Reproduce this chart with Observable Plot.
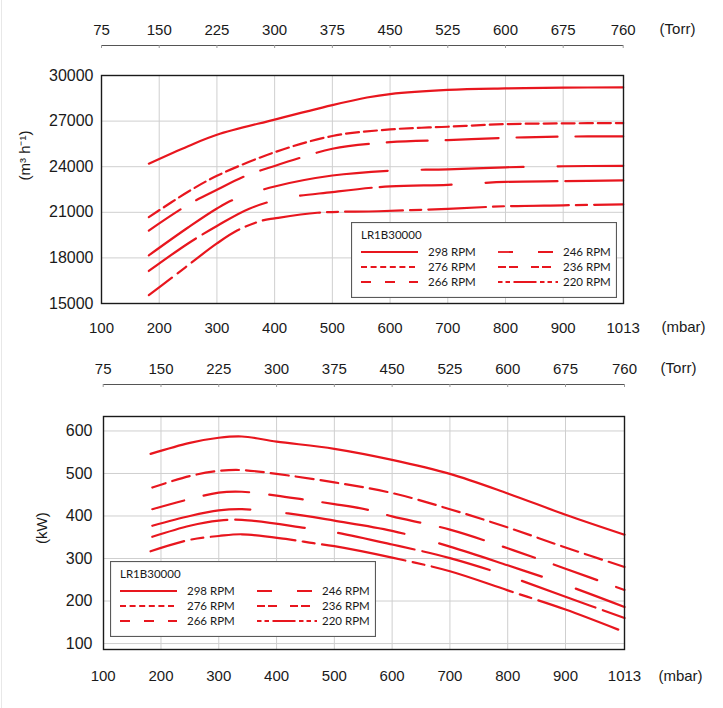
<!DOCTYPE html>
<html><head><meta charset="utf-8">
<script src="https://cdn.jsdelivr.net/npm/d3@7"></script>
<script src="https://cdn.jsdelivr.net/npm/@observablehq/plot@0.6"></script>
<style>
body{margin:0;background:#fff;}
#root{position:relative;width:723px;height:708px;overflow:hidden;background:#fff;}
.panel{position:absolute;left:0;width:723px;}
.panel svg{display:block;}
.legend{position:absolute;line-height:0;}
#edge{position:absolute;left:1px;top:0;width:1px;height:708px;background:#e8e8e8;}
</style></head><body>
<div id="root"><div id="edge"></div><div class="panel" id="p1" style="top:0"></div><div class="panel" id="p2" style="top:345px"></div></div>
<script>
// ---- data ----
const mbarTicks = [100,200,300,400,500,600,700,800,900,1013];
const mbarGrid = [200,300,400,500,600,700,800,900];
const torrTicks = [75,150,225,300,375,450,525,600,675,760];
const flowTicks = [15000,18000,21000,24000,27000,30000];
const powerTicks = [100,200,300,400,500,600];
const rpmLabels = ["298 RPM","276 RPM","266 RPM","246 RPM","236 RPM","220 RPM"];
const modelName = "LR1B30000";

// Flow (m3/h) vs pressure (mbar)
const flow298X = [182,250,300,400,500,560,600,700,800,900,1013];
const flow298Y = [24200,25350,26100,27100,28050,28550,28780,29050,29150,29200,29220];
const flow276X = [182,250,300,400,500,600,700,800,900,1013];
const flow276Y = [20680,22350,23400,24950,26020,26450,26630,26800,26850,26870];
const flow266X = [182,250,300,350,400,450,500,600,700,800,900,1013];
const flow266Y = [19800,21500,22480,23400,24050,24650,25180,25615,25750,25900,25980,26000];
const flow246X = [182,250,300,330,400,500,600,700,800,900,1013];
const flow246Y = [18170,20000,21250,21850,22700,23420,23740,23830,23960,24030,24060];
const flow236X = [182,250,300,355,413,500,600,700,800,900,1013];
const flow236Y = [17140,18950,20100,21220,21900,22330,22710,22810,23000,23050,23100];
const flow220X = [182,222,246,300,335,378,400,474,580,700,800,900,1013];
const flow220Y = [15550,16700,17400,18950,19800,20450,20600,20970,21070,21230,21400,21460,21520];

// Power (kW) vs pressure (mbar)
const pow298X = [182,250,300,340,400,500,600,700,800,900,1013];
const pow298Y = [546,572,584,587,575,558,532,499,453,403,356];
const pow276X = [185,250,300,340,400,500,600,700,800,900,1013];
const pow276Y = [467,494,506,508,499,479,454,416,373,326,280];
const pow266X = [185,250,300,340,400,450,500,560,600,700,800,900,1013];
const pow266Y = [416,440,455,457,448,438,428,414,399,368,324,276,226];
const pow246X = [185,250,300,340,420,500,600,700,800,900,1013];
const pow246Y = [377,400,413,416,406,389,365,328,284,238,186];
const pow236X = [185,250,300,340,450,500,600,700,800,900,1013];
const pow236Y = [351,377,389,391,372,362,333,301,259,210,160];
const pow220X = [182,250,300,340,416,464,500,600,700,800,900,1013];
const pow220Y = [317,344,353,357,346,336,329,302,270,225,180,127];

// ---- styles ----
const RED = "#e8161e";
const FONT = "'Liberation Sans', Arial, sans-serif";
const flowDash = [
  {d:null,o:0},{d:"13,5",o:0},{d:"41,18,53,18",o:3},
  {d:"102,34,125,34",o:2},{d:"72,8,72,34",o:15},{d:"58,7,11,7",o:29}];
const powDash = [
  {d:null,o:0},{d:"18,7",o:4},{d:"34,20,46,20",o:1},
  {d:"108,36,120,36",o:8},{d:"78,8,70,34",o:1},{d:"85,7.5,12,7.5",o:50}];
const legendDash = [null,"6,3.6","10,14","15,25","8,3,9,13","4.5,3,4.5,3.5,23,3.5"];

const torrMbar = torrTicks.map(t => t === 75 ? 100 : t === 760 ? 1013 : Math.round(t*1.33322));
const torrLabel = new Map(torrMbar.map((m,i)=>[m, String(torrTicks[i])]));
const xDomain = [100,900,1013];
const plain = d => String(d);

function torrAxis(c){
  return Plot.plot({
    width:723, height:c.torrH, marginTop:c.torrLine, marginBottom:c.torrH-c.torrLine-3,
    marginLeft:c.ml, marginRight:c.mr,
    x:{type:"linear", domain:xDomain, range:c.xRange},
    y:{type:"linear", domain:[0,1], range:[c.torrLine, c.torrLine+3], axis:null},
    style:{fontFamily:FONT, fontSize:"15px", background:"transparent", color:"#1a1a1a"},
    marks:[
      Plot.ruleY([0],{stroke:"#555", strokeWidth:1}),
      Plot.ruleX(torrMbar,{x:d=>d, y1:0, y2:1, stroke:"#999"}),
      Plot.axisX(torrMbar,{anchor:"top", tickSize:0, tickPadding:c.torrPad, tickFormat:d=>torrLabel.get(d), label:null}),
      Plot.text(["(Torr)"],{frameAnchor:"top-right", dx:54, dy:-(c.torrPad+5.4), lineAnchor:"middle", textAnchor:"middle"})
    ]
  });
}

function mainPlot(c){
  const lines = c.series.map((s,i)=>Plot.line(s.x,{x:s.x, y:s.y, stroke:RED, strokeWidth:2.2,
    strokeDasharray:c.dash[i].d || undefined, strokeDashoffset:c.dash[i].o, curve:"catmull-rom"}));
  return Plot.plot({
    width:723, height:c.h, marginTop:c.mt, marginBottom:c.mb, marginLeft:c.ml, marginRight:c.mr,
    x:{type:"linear", domain:xDomain, range:c.xRange},
    y:{type:"linear", domain:c.yDomain},
    style:{fontFamily:FONT, fontSize:"15px", background:"transparent", color:"#1a1a1a"},
    marks:[
      Plot.ruleX(mbarGrid,{stroke:"#cfcfcf", strokeWidth:1}),
      Plot.ruleY(c.yTicks,{stroke:"#cfcfcf", strokeWidth:1}),
      ...lines,
      Plot.frame({stroke:"#1a1a1a", strokeWidth:1.4}),
      Plot.axisY(c.yTicks,{tickSize:0, tickPadding:c.yPad, fontSize:16, tickFormat:plain, label:null}),
      Plot.axisX(mbarTicks,{tickSize:0, tickPadding:c.xPad, tickFormat:plain, label:null}),
      Plot.text([c.yLabel],{frameAnchor:"left", dx:c.yLabDx, dy:c.yLabDy, rotate:-90, fontSize:15}),
      Plot.text(["(mbar)"],{frameAnchor:"bottom-right", dx:c.mbarDx, dy:c.xPad+5.4, lineAnchor:"middle", textAnchor:"middle"})
    ]
  });
}

function legend(){
  const W=266,H=76;
  let s=`<svg width="${W}" height="${H}" xmlns="http://www.w3.org/2000/svg" style="font-family:Lato, 'Open Sans', sans-serif;font-size:11.5px">`;
  s+=`<rect x="0.5" y="0.5" width="${W-1}" height="${H-1}" fill="#fff" stroke="#5a5a5a" stroke-width="1.2"/>`;
  s+=`<text x="10" y="17" fill="#1a1a1a">${modelName}</text>`;
  rpmLabels.forEach((lab,i)=>{
    const col = i<3?0:1, row=i%3, y=30+row*15;
    const x1=col?147:10, x2=col?207:67, tx=col?212:77;
    const da = legendDash[i] ? ` stroke-dasharray="${legendDash[i]}"` : "";
    s+=`<line x1="${x1}" x2="${x2}" y1="${y}" y2="${y}" stroke="${RED}" stroke-width="1.8"${da}/>`;
    s+=`<text x="${tx}" y="${y+4}" fill="#1a1a1a">${lab}</text>`;
  });
  return s+"</svg>";
}

function build(el, c){
  el.appendChild(torrAxis(c));
  el.appendChild(mainPlot(c));
  const lg=document.createElement("div");
  lg.className="legend"; lg.style.left=c.legX+"px"; lg.style.top=c.legY+"px";
  lg.innerHTML=legend();
  el.appendChild(lg);
}

const flowSeries = [
  {x:flow298X,y:flow298Y},{x:flow276X,y:flow276Y},{x:flow266X,y:flow266Y},
  {x:flow246X,y:flow246Y},{x:flow236X,y:flow236Y},{x:flow220X,y:flow220Y}];
const powSeries = [
  {x:pow298X,y:pow298Y},{x:pow276X,y:pow276Y},{x:pow266X,y:pow266Y},
  {x:pow246X,y:pow246Y},{x:pow236X,y:pow236Y},{x:pow220X,y:pow220Y}];

build(document.getElementById("p1"), {
  torrH:67, torrLine:45, torrPad:10.5, ml:101, mr:100, xRange:[101,562.7,622.7],
  h:278, mt:8, mb:42, yDomain:[15000,30000], yTicks:flowTicks, yPad:8, xPad:18.5,
  yLabel:"(m³ h⁻¹)", yLabDx:-76, yLabDy:-9, mbarDx:60,
  series:flowSeries, dash:flowDash, legX:351, legY:222
});
build(document.getElementById("p2"), {
  torrH:62, torrLine:39, torrPad:10.6, ml:103, mr:99, xRange:[102.7,565,624],
  h:301, mt:9, mb:59, yDomain:[86,634], yTicks:powerTicks, yPad:11, xPad:21,
  yLabel:"(kW)", yLabDx:-61, yLabDy:11, mbarDx:56,
  series:powSeries, dash:powDash, legX:110, legY:216
});
</script></body></html>
